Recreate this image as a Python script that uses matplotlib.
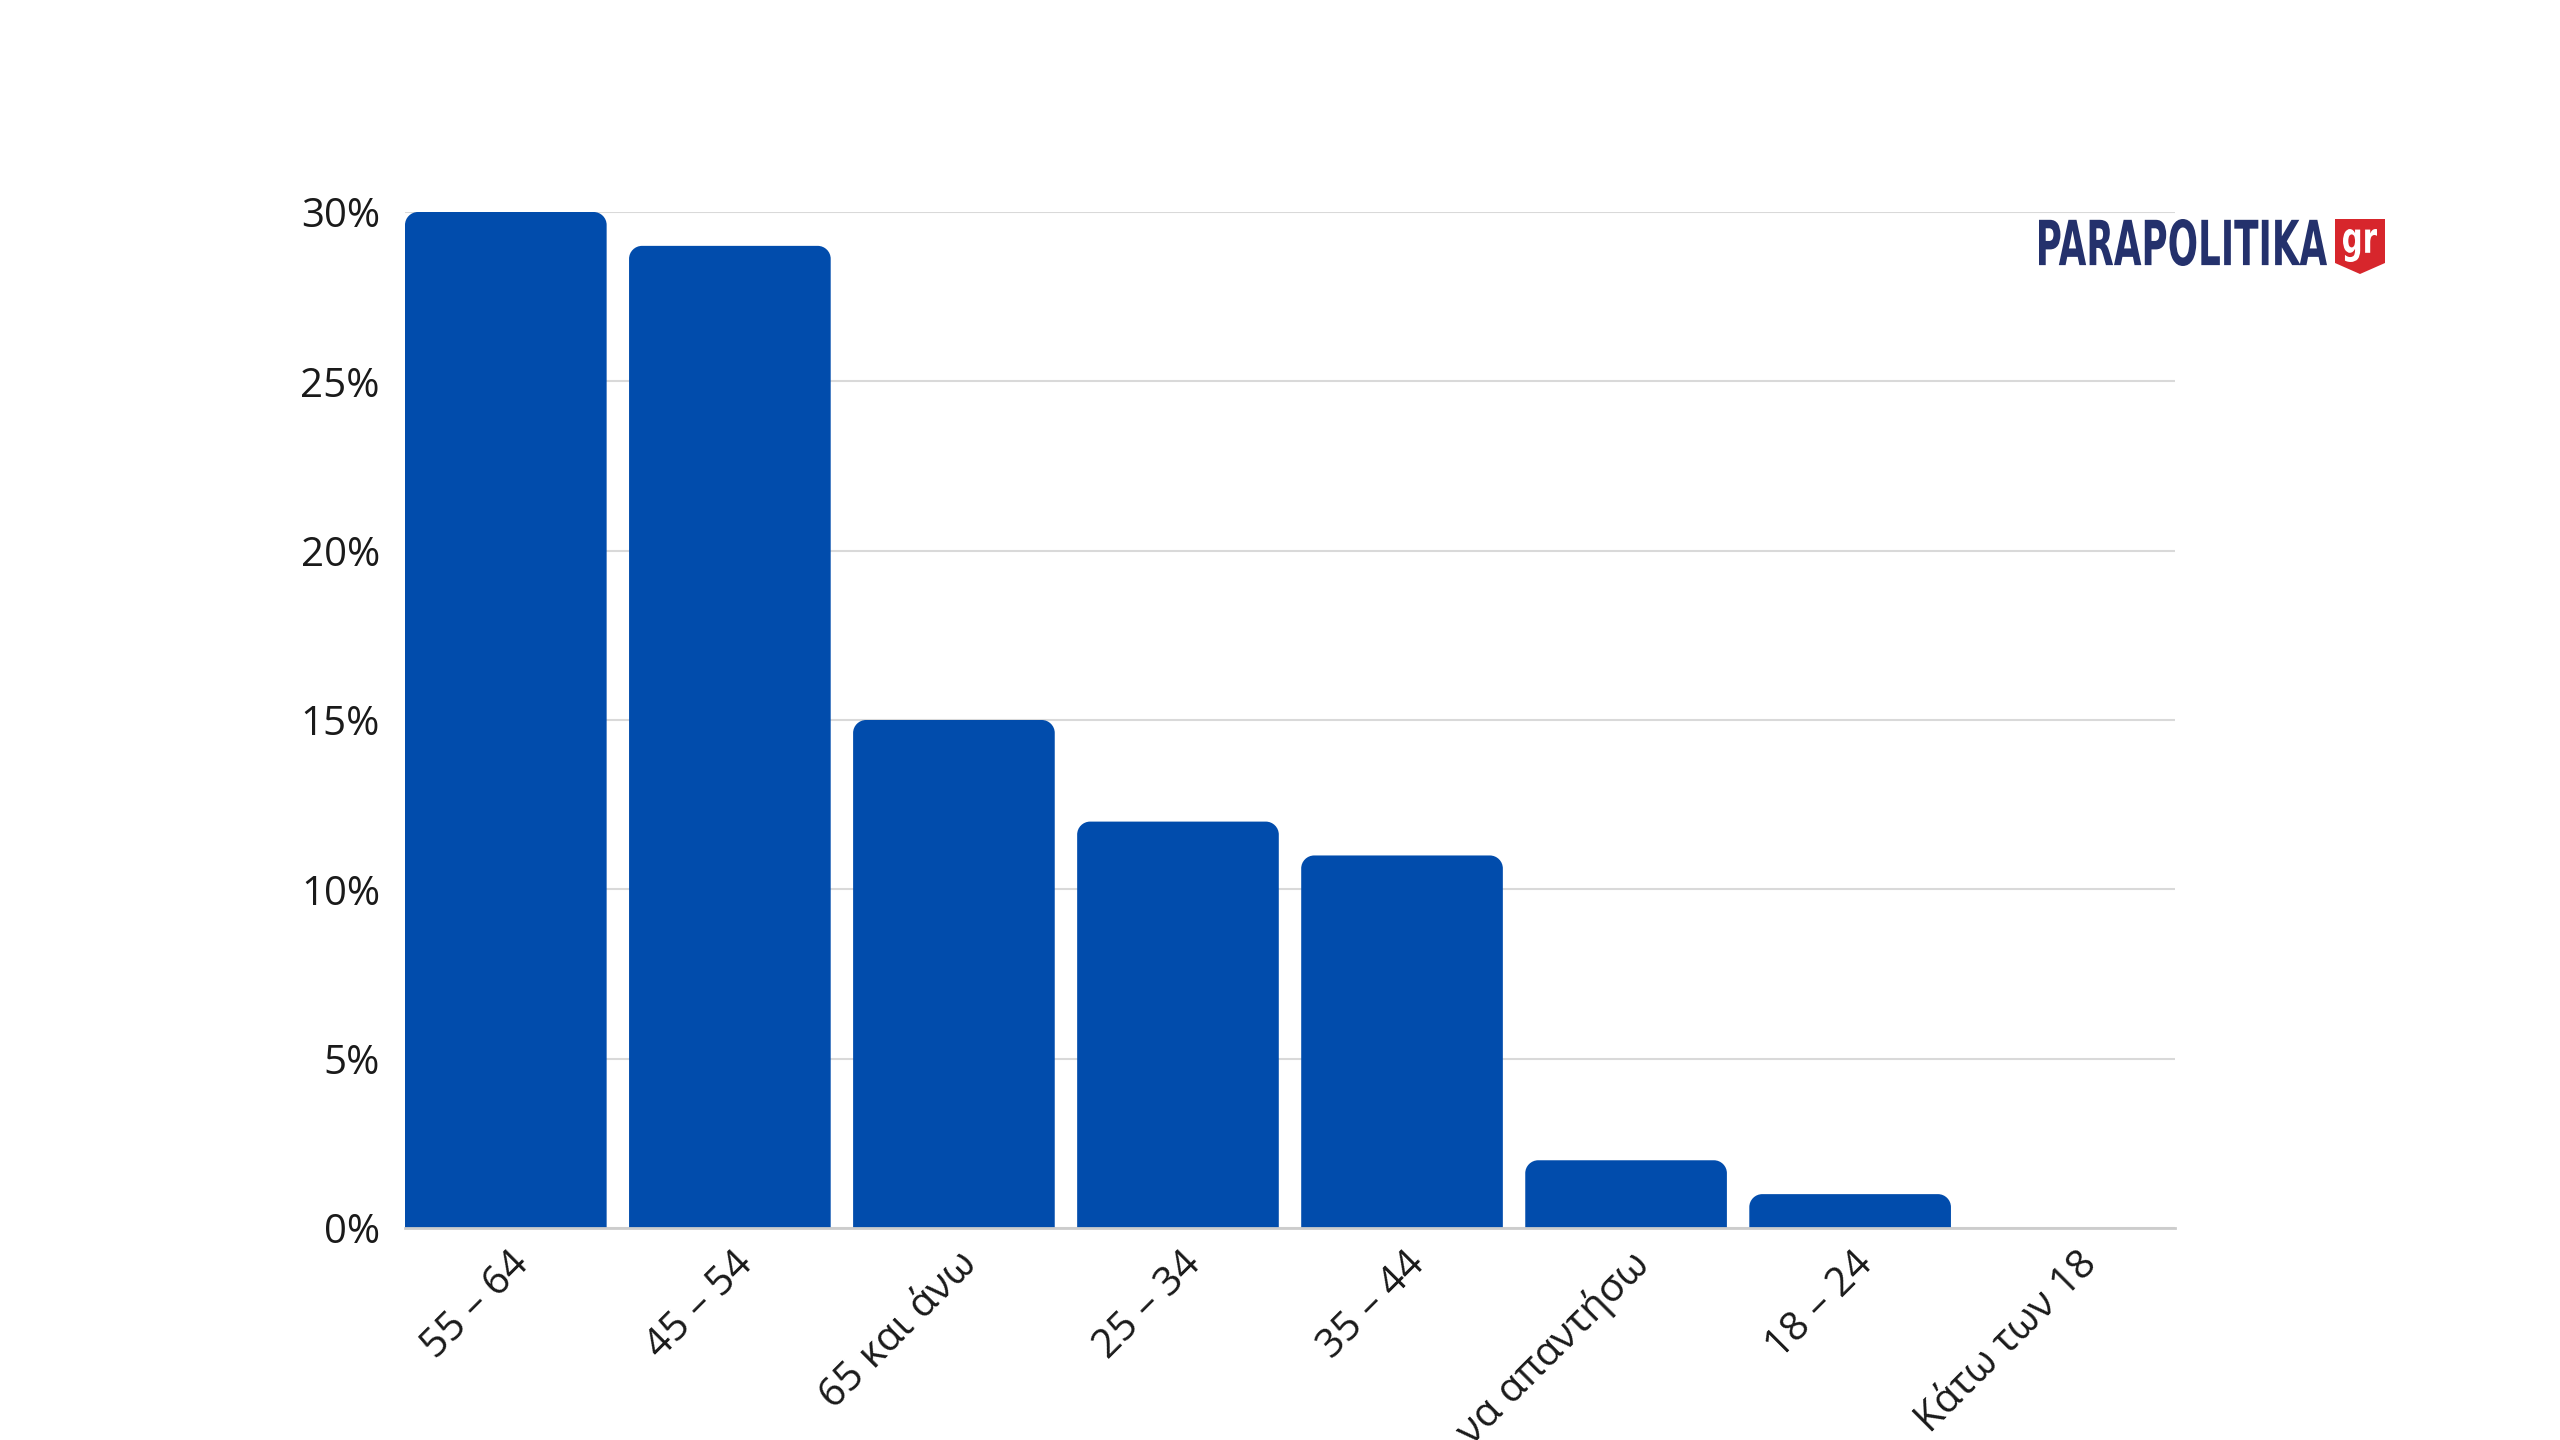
import numpy as np
import matplotlib.pyplot as plt
from matplotlib.path import Path
from matplotlib.patches import PathPatch, Polygon
from matplotlib.textpath import TextPath
from matplotlib.font_manager import FontProperties
from matplotlib.transforms import Affine2D, IdentityTransform, ScaledTranslation
from matplotlib.ticker import FuncFormatter

plt.rcParams['font.family'] = ['Open Sans', 'DejaVu Sans']

# δεδομένα
categories = ['55 – 64', '45 – 54', '65 και άνω', '25 – 34', '35 – 44',
              'Δεν θέλω να απαντήσω', '18 – 24', 'Κάτω των 18']
values = [30, 29, 15, 12, 11, 2, 1, 0]
yticks = [0, 5, 10, 15, 20, 25, 30]

bar_color = '#014CAC'
W, H = 2560, 1440


def rounded_top_bar(ax, x, h, w, rx, ry):
    # bar with rounded top corners (data units)
    if h <= 0:
        return
    ry = min(ry, h)
    k = 0.5523
    l, r = x - w / 2, x + w / 2
    verts = [(l, 0), (l, h - ry),
             (l, h - ry + k * ry), (l + rx - k * rx, h), (l + rx, h),
             (r - rx, h),
             (r - rx + k * rx, h), (r, h - ry + k * ry), (r, h - ry),
             (r, 0), (l, 0)]
    codes = [Path.MOVETO, Path.LINETO,
             Path.CURVE4, Path.CURVE4, Path.CURVE4,
             Path.LINETO,
             Path.CURVE4, Path.CURVE4, Path.CURVE4,
             Path.LINETO, Path.CLOSEPOLY]
    ax.add_patch(PathPatch(Path(verts, codes), facecolor=bar_color,
                           edgecolor='none', zorder=3))


def text_in_box(fig, s, x0, y0, x1, y1, color, weight='heavy'):
    # text squeezed into a pixel box (top-left origin)
    tp = TextPath((0, 0), s, size=100, prop=FontProperties(family='DejaVu Sans', weight=weight))
    bb = tp.get_extents()
    tr = (Affine2D().translate(-bb.x0, -bb.y0)
          .scale((x1 - x0) / bb.width, (y1 - y0) / bb.height)
          .translate(x0, H - y1))
    fig.patches.append(PathPatch(tr.transform_path(tp), facecolor=color,
                                 edgecolor='none', transform=IdentityTransform()))


fig = plt.figure(figsize=(25.6, 14.4), dpi=100)
ax = fig.add_axes([405 / W, 1 - 1228 / H, (2175 - 405) / W, (1228 - 212) / H])

x = np.arange(len(categories))
w = 0.9
ax.set_xlim(-0.45, len(categories) - 0.55)
ax.set_ylim(0, 30)

# ακτίνα γωνίας ~13 px
px_x = (2175 - 405) / (len(categories) - 0.1)
px_y = (1228 - 212) / 30
for xi, v in zip(x, values):
    rounded_top_bar(ax, xi, v, w, 13 / px_x, 13 / px_y)

ax.set_yticks(yticks)
ax.yaxis.set_major_formatter(FuncFormatter(lambda v, p: f'{v:.0f}%'))
ax.grid(axis='y', color='#d9d9d9', linewidth=1.5, zorder=0)
ax.set_axisbelow(True)
for s in ['top', 'right', 'left']:
    ax.spines[s].set_visible(False)
ax.spines['bottom'].set_color('#cccccc')
ax.spines['bottom'].set_linewidth(2)
ax.spines['bottom'].set_zorder(4)

ax.set_xticks(x)
ax.set_xticklabels(categories, rotation=45, ha='right', va='center',
                   rotation_mode='anchor')
ax.tick_params(axis='both', length=0, labelsize=29, colors='#1a1a1a')
ax.tick_params(axis='x', pad=22)
ax.tick_params(axis='y', pad=18)
shift = ScaledTranslation(0.17, 0, fig.dpi_scale_trans)
for lbl in ax.get_xticklabels():
    lbl.set_transform(lbl.get_transform() + shift)

# λογότυπο
text_in_box(fig, 'PARAPOLITIKA', 2039, 219, 2327, 266, '#24316c')
fig.patches.append(Polygon([(2335, H - 219), (2385, H - 219), (2385, H - 263),
                            (2360, H - 274), (2335, H - 263)],
                           closed=True, facecolor='#d7262c', edgecolor='none',
                           transform=IdentityTransform()))
text_in_box(fig, 'gr', 2343, 229, 2377, 262, 'white', weight='bold')

fig.savefig('out.png', dpi=100, facecolor='white')
